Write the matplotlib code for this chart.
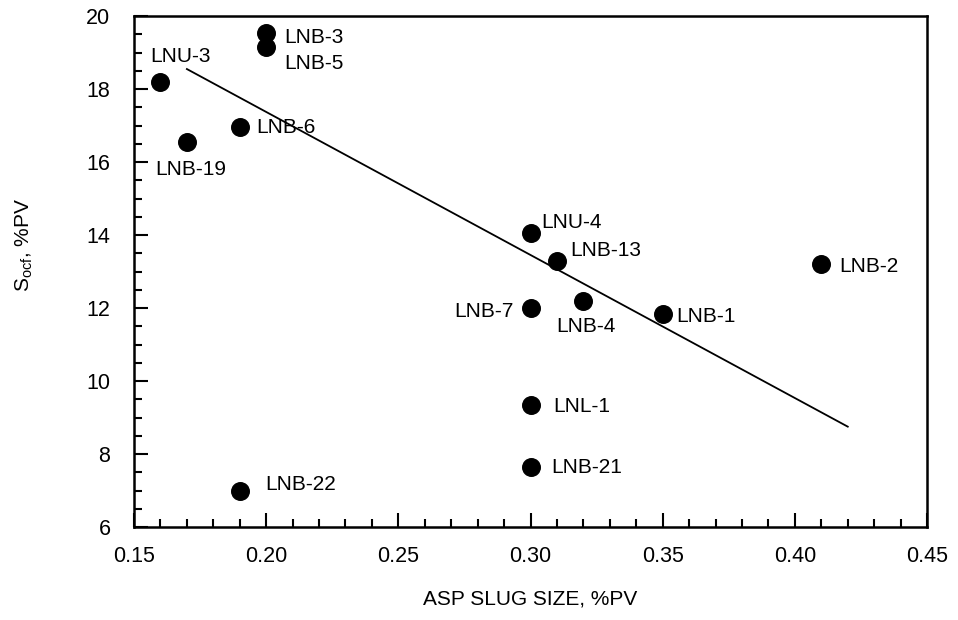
import matplotlib
matplotlib.use("Agg")
import matplotlib.pyplot as plt
from matplotlib.ticker import MultipleLocator

plt.rcParams['font.family'] = ['Liberation Sans', 'DejaVu Sans']

# data
labels = ['LNU-3', 'LNB-3', 'LNB-5', 'LNB-6', 'LNB-19', 'LNU-4', 'LNB-13', 'LNB-2',
          'LNB-7', 'LNB-4', 'LNB-1', 'LNL-1', 'LNB-21', 'LNB-22']
slug = [0.16, 0.20, 0.20, 0.19, 0.17, 0.30, 0.31, 0.41,
        0.30, 0.32, 0.35, 0.30, 0.30, 0.19]
socf = [18.2, 19.55, 19.15, 16.95, 16.55, 14.05, 13.3, 13.2,
        12.0, 12.2, 11.85, 9.35, 7.65, 7.0]

fit_x = [0.17, 0.42]
fit_y = [18.55, 8.75]

# label offsets in pixels (dx, dy, ha)
offsets = [(-10, 25, 'left'), (18, -5, 'left'), (18, -16, 'left'), (16, 0, 'left'),
           (-32, -27, 'left'), (11, 11, 'left'), (13, 10, 'left'), (18, -2, 'left'),
           (-17, -3, 'right'), (-27, -26, 'left'), (14, -3, 'left'), (23, -2, 'left'),
           (21, -1, 'left'), (25, 6, 'left')]

fig = plt.figure(figsize=(9.58, 6.2), dpi=100)
ax = fig.add_axes([0.1399, 0.15, 0.8278, 0.824])

ax.plot(fit_x, fit_y, color='black', linewidth=1.3)
ax.scatter(slug, socf, s=160, color='black', zorder=3)

for name, x, y, (dx, dy, ha) in zip(labels, slug, socf, offsets):
    ax.annotate(name, (x, y), xytext=(dx, dy), textcoords='offset pixels',
                ha=ha, va='center', fontsize=15)

ax.set_xlim(0.15, 0.45)
ax.set_ylim(6, 20)
ax.xaxis.set_major_locator(MultipleLocator(0.05))
ax.xaxis.set_minor_locator(MultipleLocator(0.01))
ax.yaxis.set_major_locator(MultipleLocator(2))
ax.yaxis.set_minor_locator(MultipleLocator(0.5))
ax.set_xticks([0.15, 0.20, 0.25, 0.30, 0.35, 0.40, 0.45])
ax.set_xticklabels(['0.15', '0.20', '0.25', '0.30', '0.35', '0.40', '0.45'])

ax.tick_params(which='both', direction='in', labelsize=15.5, width=1.5)
ax.tick_params(axis='x', which='major', length=10, pad=14)
ax.tick_params(axis='y', which='major', length=10, pad=17)
ax.tick_params(which='minor', length=6)
for sp in ax.spines.values():
    sp.set_linewidth(1.8)

ax.set_xlabel('ASP SLUG SIZE, %PV', fontsize=15, labelpad=16)
ax.set_ylabel(r'S$_{\mathregular{ocf}}$, %PV', fontsize=15)
ax.yaxis.set_label_coords(-0.125, 0.552)

fig.savefig('out.png', dpi=100)
